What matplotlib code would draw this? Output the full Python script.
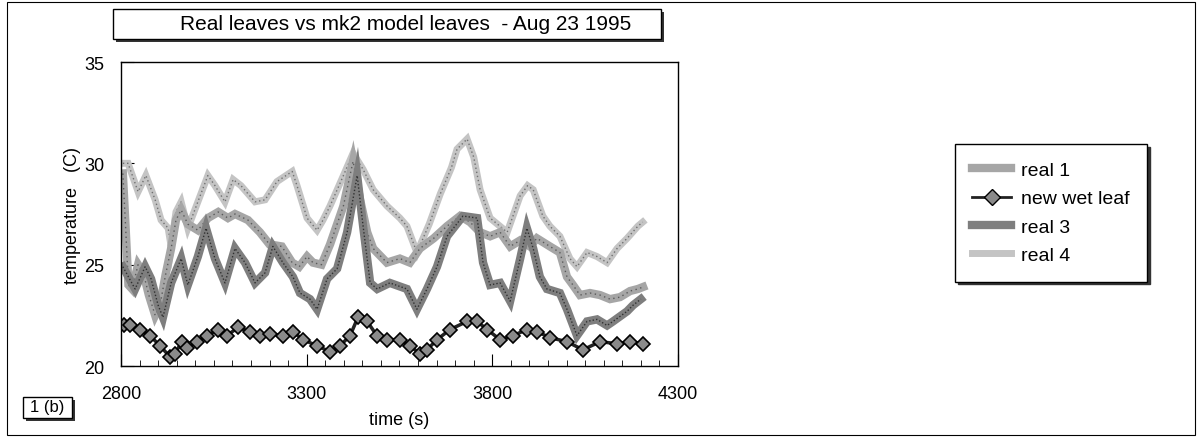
import matplotlib
matplotlib.use("Agg")
import matplotlib.pyplot as plt
from matplotlib.patches import Rectangle
from matplotlib.lines import Line2D
from matplotlib.ticker import MultipleLocator

plt.rcParams["font.family"] = ["Liberation Sans", "DejaVu Sans"]

# =====================================================
#   data
# =====================================================

title = "Real leaves vs mk2 model leaves  - Aug 23 1995"
xticks = [2800, 3300, 3800, 4300]
yticks = [20, 25, 30, 35]

real1_t = [2805, 2812, 2820, 2830, 2846, 2860, 2875, 2892, 2905, 2920, 2935, 2948,
           2962, 2980, 3007, 3034, 3062, 3088, 3107, 3142, 3174, 3200, 3233, 3261,
           3280, 3301, 3317, 3340, 3363, 3399, 3425, 3444, 3463, 3479, 3516, 3551,
           3578, 3605, 3642, 3678, 3713, 3740, 3767, 3794, 3821, 3848, 3875, 3901,
           3920, 3955, 3982, 4001, 4017, 4036, 4063, 4090, 4117, 4144, 4171, 4192, 4206]
real1_T = [29.5, 27.0, 24.0, 23.8, 25.0, 24.6, 23.5, 22.5, 23.0, 24.5, 25.8, 27.2,
           27.7, 27.0, 26.7, 27.3, 27.6, 27.3, 27.5, 27.2, 26.6, 26.0, 25.9, 25.1,
           24.9, 25.4, 25.1, 25.0, 26.0, 27.9, 30.1, 28.2, 26.6, 25.8, 25.1, 25.3,
           25.1, 25.8, 26.3, 26.9, 27.4, 27.1, 26.6, 26.4, 26.6, 25.9, 26.2, 25.9,
           26.3, 25.9, 25.6, 24.4, 24.0, 23.5, 23.6, 23.5, 23.3, 23.4, 23.7, 23.8, 23.9]

wet_t = [2808, 2824, 2851, 2878, 2905, 2932, 2945, 2964, 2978, 3005, 3032, 3061,
         3085, 3115, 3147, 3174, 3201, 3236, 3263, 3290, 3328, 3363, 3390, 3417,
         3438, 3463, 3489, 3516, 3551, 3578, 3605, 3624, 3651, 3686, 3732, 3759,
         3786, 3821, 3856, 3893, 3920, 3955, 4001, 4044, 4090, 4136, 4171, 4206]
wet_T = [22.0, 22.0, 21.8, 21.5, 21.0, 20.45, 20.6, 21.2, 20.9, 21.2, 21.5, 21.8,
         21.5, 21.9, 21.7, 21.5, 21.6, 21.5, 21.7, 21.3, 21.0, 20.7, 21.0, 21.5,
         22.4, 22.2, 21.5, 21.3, 21.3, 21.0, 20.6, 20.8, 21.3, 21.8, 22.2, 22.2,
         21.8, 21.3, 21.5, 21.8, 21.7, 21.4, 21.2, 20.8, 21.2, 21.1, 21.2, 21.1]

real3_t = [2805, 2838, 2865, 2881, 2900, 2913, 2935, 2962, 2980, 3007, 3029, 3053,
           3080, 3107, 3134, 3161, 3188, 3209, 3236, 3263, 3282, 3309, 3328, 3355,
           3382, 3409, 3436, 3452, 3471, 3490, 3524, 3570, 3578, 3597, 3624, 3651,
           3678, 3721, 3759, 3775, 3794, 3821, 3848, 3875, 3893, 3910, 3928, 3947,
           3982, 4001, 4028, 4055, 4082, 4109, 4125, 4163, 4179, 4200]
real3_T = [24.9, 23.8, 24.9, 24.3, 23.0, 22.4, 24.1, 25.3, 24.0, 25.4, 26.8, 25.3,
           24.1, 25.8, 25.1, 24.1, 24.6, 25.9, 25.1, 24.4, 23.6, 23.3, 22.8, 24.3,
           24.8, 26.6, 29.4, 26.9, 24.1, 23.8, 24.1, 23.8, 23.5, 22.8, 23.8, 24.9,
           26.4, 27.4, 27.3, 25.1, 24.0, 24.1, 23.2, 25.3, 26.8, 25.8, 24.4, 23.8,
           23.6, 22.8, 21.5, 22.2, 22.3, 22.0, 22.2, 22.7, 23.0, 23.3]

real4_t = [2805, 2819, 2846, 2867, 2892, 2908, 2927, 2935, 2948, 2962, 2980, 3007,
           3034, 3053, 3080, 3102, 3123, 3161, 3188, 3220, 3261, 3274, 3301, 3328,
           3344, 3363, 3399, 3425, 3452, 3479, 3516, 3551, 3570, 3597, 3630, 3660,
           3690, 3705, 3732, 3750, 3767, 3794, 3840, 3875, 3895, 3910, 3936, 3955,
           3982, 4009, 4028, 4055, 4082, 4109, 4136, 4163, 4192, 4205]
real4_T = [30.0, 30.0, 28.6, 29.4, 28.2, 27.2, 26.8, 25.9, 27.6, 28.1, 26.8, 28.1,
           29.4, 28.9, 28.1, 29.2, 28.9, 28.1, 28.2, 29.1, 29.6, 28.9, 27.3, 26.7,
           27.2, 27.9, 29.4, 30.5, 29.7, 28.7, 27.9, 27.3, 26.9, 25.6, 27.0, 28.5,
           29.8, 30.7, 31.2, 30.3, 28.7, 27.3, 26.6, 28.4, 28.9, 28.7, 27.4, 26.9,
           26.4, 25.3, 24.9, 25.6, 25.4, 25.1, 25.8, 26.3, 26.9, 27.1]

# =====================================================
# plotting
# =====================================================

fig = plt.figure(figsize=(12, 4.39), dpi=100)
ax = fig.add_axes([121 / 1200, 1 - 367 / 439, 557 / 1200, 304 / 439])

# thick grey "hatched" traces, drawn as a fat band plus a speckle overlay
ax.plot(real4_t, real4_T, color="#c4c4c4", lw=5, solid_joinstyle="miter")
ax.plot(real4_t, real4_T, color="#707070", lw=1, ls=(0, (1, 2)))
ax.plot(real1_t, real1_T, color="#a6a6a6", lw=6, solid_joinstyle="miter")
ax.plot(real1_t, real1_T, color="#5a5a5a", lw=1, ls=(0, (1, 2.5)))
ax.plot(real3_t, real3_T, color="#7e7e7e", lw=6, solid_joinstyle="miter")
ax.plot(real3_t, real3_T, color="#303030", lw=1, ls=(0, (1, 1.5)))
ax.plot(wet_t, wet_T, color="#222222", lw=2.5, marker="D", ms=7.5,
        mfc="#8a8a8a", mec="black", mew=1.2)

ax.set_xlim(2800, 4300)
ax.set_ylim(20, 35)
ax.set_xticks(xticks)
ax.set_yticks(yticks)
ax.xaxis.set_minor_locator(MultipleLocator(50))
ax.tick_params(axis="both", which="major", direction="in", length=9,
               labelsize=13, top=False, right=False)
ax.tick_params(axis="x", which="major", pad=14)
ax.tick_params(axis="y", which="major", pad=12)
ax.tick_params(axis="x", which="minor", direction="in", length=4, top=False)
for s in ax.spines.values():
    s.set_linewidth(1.0)

ax.set_xlabel("time (s)", fontsize=13, labelpad=6)
ax.set_ylabel("temperature   (C)", fontsize=13, labelpad=2)

# legend
handles = [
    Line2D([], [], color="#a6a6a6", lw=6),
    Line2D([], [], color="#222222", lw=2, marker="D", ms=8, mfc="#8a8a8a", mec="black"),
    Line2D([], [], color="#7e7e7e", lw=6),
    Line2D([], [], color="#c4c4c4", lw=5),
]
labels = ["real 1", "new wet leaf", "real 3", "real 4"]
leg = fig.legend(handles, labels, loc="upper left", bbox_to_anchor=(955 / 1200, 1 - 145 / 439),
                 fontsize=14, frameon=True, fancybox=False, edgecolor="black",
                 handlelength=2.0, handletextpad=0.5, labelspacing=0.55, borderpad=0.9,
                 borderaxespad=0, shadow={"color": "#333333", "alpha": 1})
leg.get_frame().set_linewidth(1.0)


def shadow_box(x0, y0, x1, y1):
    # box given in pixel coords from the top left, drawn with a drop shadow
    W, H = 1200, 439
    fig.add_artist(Rectangle(((x0 + 3) / W, 1 - (y1 + 3) / H), (x1 - x0) / W, (y1 - y0) / H,
                             transform=fig.transFigure, fc="#333333", ec="none"))
    fig.add_artist(Rectangle((x0 / W, 1 - y1 / H), (x1 - x0) / W, (y1 - y0) / H,
                             transform=fig.transFigure, fc="white", ec="black", lw=1))


# title box
shadow_box(113, 10, 661, 40)
fig.text(406 / 1200, 1 - 25 / 439, title, ha="center", va="center", fontsize=15)

# panel tag
shadow_box(23, 398, 72, 419)
fig.text(47 / 1200, 1 - 408 / 439, "1 (b)", ha="center", va="center", fontsize=12)

# outer frame
fig.add_artist(Rectangle((7 / 1200, 1 - 436 / 439), 1188 / 1200, 433 / 439,
                         transform=fig.transFigure, fill=False, ec="black", lw=0.8))

plt.savefig("out.png", dpi=100)
plt.close()
